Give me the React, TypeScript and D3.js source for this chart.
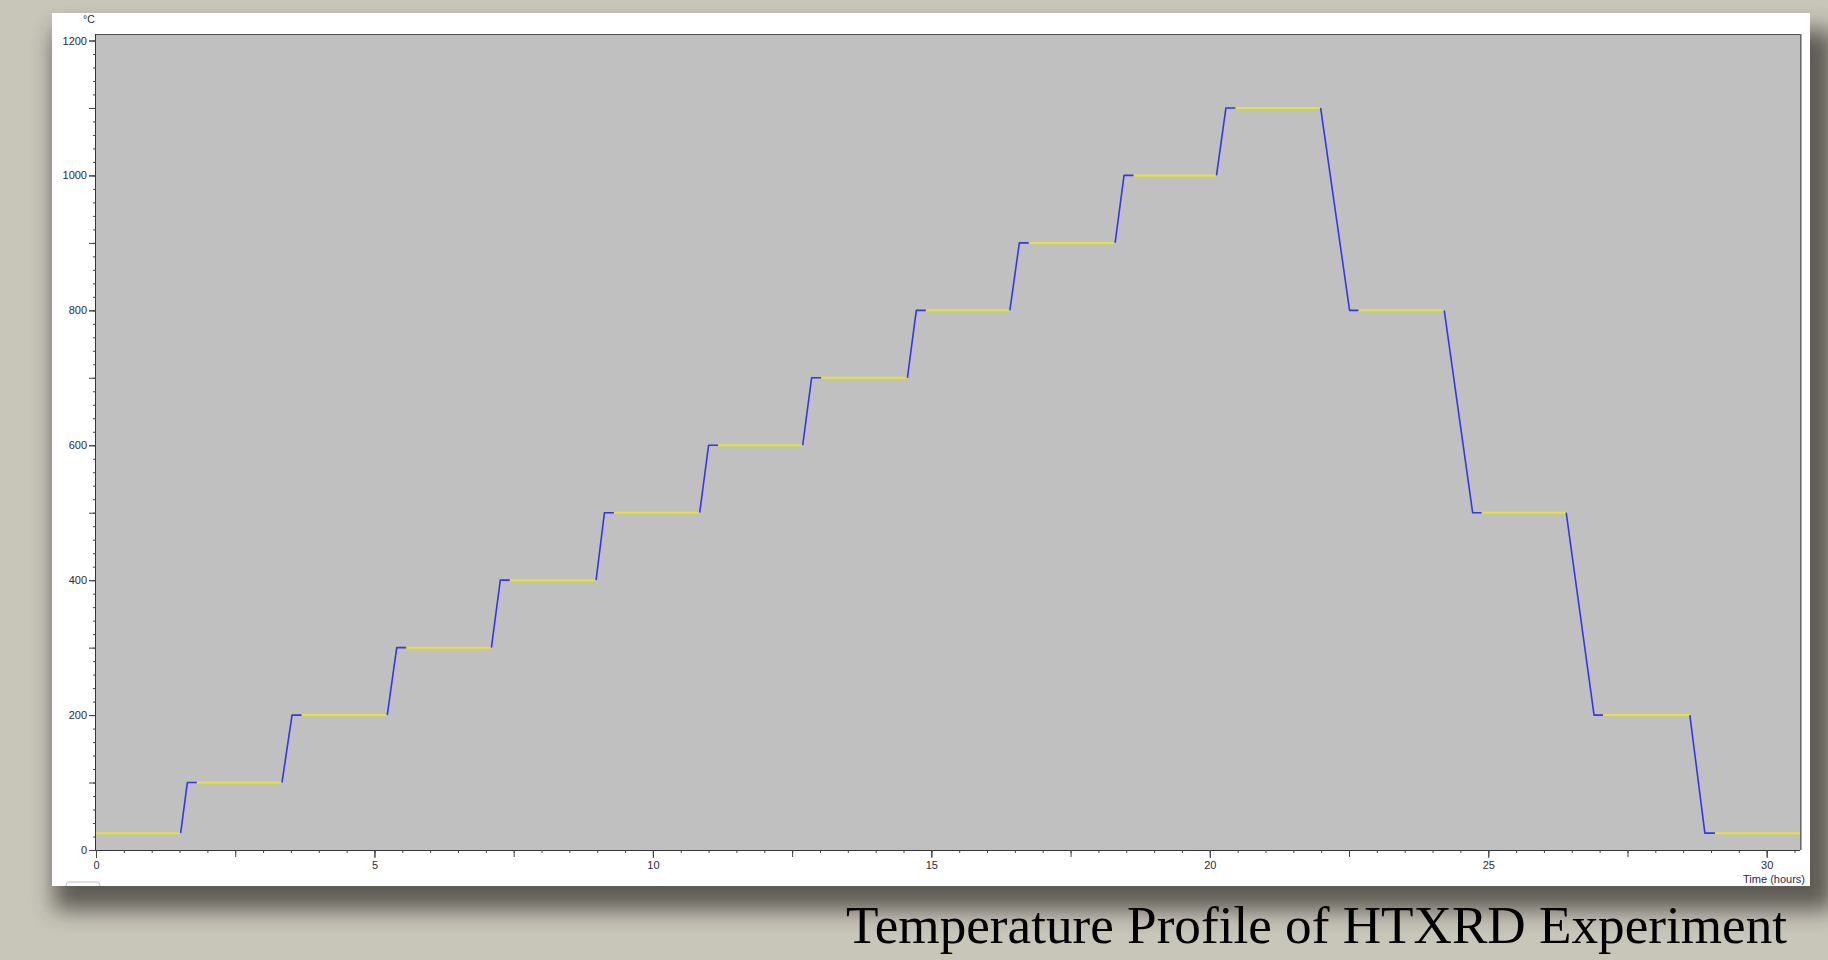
import React, { useEffect, useRef } from "react";
import * as d3 from "d3";

// Temperature levels (°C) of each step of the HTXRD programme
const levels = [25, 100, 200, 300, 400, 500, 600, 700, 800, 900, 1000, 1100, 800, 500, 200, 25];
// time (hours) at which each level is reached
const reachTimes = [0, 1.64, 3.52, 5.40, 7.26, 9.13, 11.00, 12.85, 14.73, 16.58, 18.46, 20.29, 22.51, 24.72, 26.90, 28.89];
// time (hours) at which the measured hold (yellow) starts
const holdStartTimes = [0, 1.81, 3.69, 5.57, 7.43, 9.30, 11.17, 13.02, 14.90, 16.75, 18.63, 20.46, 22.67, 24.88, 27.06, 29.07];
// time (hours) at which each hold ends
const holdEndTimes = [1.52, 3.34, 5.23, 7.10, 8.98, 10.84, 12.69, 14.57, 16.41, 18.30, 20.12, 21.99, 24.21, 26.40, 28.62, 30.59];

const xLabelTicks = [0, 5, 10, 15, 20, 25, 30];
const yLabelTicks = [0, 200, 400, 600, 800, 1000, 1200];

const W = 1828;
const H = 960;
const plot = { left: 96, right: 1800, top: 34, bottom: 850 };

export default function App() {
  const xAxisRef = useRef<SVGGElement>(null);
  const yAxisRef = useRef<SVGGElement>(null);

  const x = d3.scaleLinear().domain([0, 30]).range([96, 1766.7]);
  const y = d3.scaleLinear().domain([0, 1200]).range([850, 40.5]);

  useEffect(() => {
    document.body.style.margin = "0";
    const font = "Liberation Sans, Arial, sans-serif";
    const gx = d3.select(xAxisRef.current);
    gx.selectAll("*").remove();
    const minorX = d3.range(0, 30.6, 0.5);
    const majorX = d3.range(0, 30.6, 2.5);
    gx.append("g").call(d3.axisBottom(x).tickValues(minorX).tickSize(3).tickFormat(() => ""));
    gx.append("g").call(d3.axisBottom(x).tickValues(majorX).tickSize(7).tickFormat(() => ""));
    gx.append("g").call(d3.axisBottom(x).tickValues(xLabelTicks).tickSize(8).tickPadding(3).tickFormat(d3.format("d")));
    gx.selectAll(".domain").remove();
    gx.selectAll("line").attr("stroke", "#444");
    gx.selectAll("text").attr("fill", "#2a2a3a").style("font-family", font).style("font-size", "11px");

    const gy = d3.select(yAxisRef.current);
    gy.selectAll("*").remove();
    const minorY = d3.range(0, 1201, 20);
    const majorY = d3.range(0, 1201, 100);
    gy.append("g").call(d3.axisLeft(y).tickValues(minorY).tickSize(3).tickFormat(() => ""));
    gy.append("g").call(d3.axisLeft(y).tickValues(majorY).tickSize(7).tickFormat(() => ""));
    gy.append("g").call(d3.axisLeft(y).tickValues(yLabelTicks).tickSize(7).tickPadding(2).tickFormat(d3.format("d")));
    gy.selectAll(".domain").remove();
    gy.selectAll("line").attr("stroke", "#444");
    gy.selectAll("text").attr("fill", "#2a2a3a").style("font-family", font).style("font-size", "11px");
  }, []);

  const line = d3
    .line<[number, number]>()
    .x((d) => x(d[0]))
    .y((d) => y(d[1]));

  const bluePaths: string[] = [];
  const yellowPaths: string[] = [];
  levels.forEach((lv, i) => {
    if (i > 0) {
      const pts: [number, number][] = [
        [holdEndTimes[i - 1], levels[i - 1]],
        [reachTimes[i], lv],
        [holdStartTimes[i], lv],
      ];
      bluePaths.push(line(pts) as string);
    }
    yellowPaths.push(
      line([
        [holdStartTimes[i], lv],
        [holdEndTimes[i], lv],
      ]) as string
    );
  });

  return (
    <svg
      width={W}
      height={H}
      style={{ position: "absolute", left: 0, top: 0, display: "block" }}
    >
      <defs>
        <filter id="shadow" x="-5%" y="-10%" width="110%" height="130%">
          <feGaussianBlur stdDeviation="11" />
        </filter>
        <clipPath id="panelClip">
          <rect x={52} y={13} width={1758} height={873} />
        </clipPath>
        <clipPath id="plotClip">
          <rect x={plot.left} y={plot.top} width={plot.right - plot.left} height={plot.bottom - plot.top} />
        </clipPath>
      </defs>
      <rect x={0} y={0} width={W} height={H} fill="#c8c5b9" />
      <rect x={54} y={30} width={1780} height={880} fill="#3a3832" opacity={0.75} filter="url(#shadow)" />
      <rect x={52} y={13} width={1758} height={873} fill="#ffffff" />
      <rect x={66} y={882} width={34} height={10} rx={3} fill="none" stroke="#bdbdbd" clipPath="url(#panelClip)" />

      {/* plot background */}
      <rect x={plot.left} y={plot.top} width={plot.right - plot.left} height={plot.bottom - plot.top} fill="#c0c0c0" />
      <line x1={plot.left} x2={plot.right} y1={plot.top + 0.5} y2={plot.top + 0.5} stroke="#505050" />
      <line x1={plot.right + 0.5} x2={plot.right + 0.5} y1={plot.top} y2={plot.bottom} stroke="#6a6a6a" />
      <line x1={plot.right + 1.5} x2={plot.right + 1.5} y1={plot.top} y2={plot.bottom} stroke="#a8a8a8" />

      <g clipPath="url(#plotClip)">
        {yellowPaths.map((d, i) => (
          <path key={"y" + i} d={d} fill="none" stroke="#e6e625" strokeWidth={2} />
        ))}
        {bluePaths.map((d, i) => (
          <path key={"b" + i} d={d} fill="none" stroke="#3535ec" strokeWidth={1.6} strokeLinejoin="round" />
        ))}
      </g>

      <line x1={plot.left} x2={plot.right} y1={plot.bottom + 0.5} y2={plot.bottom + 0.5} stroke="#333" />
      <line x1={plot.left - 0.5} x2={plot.left - 0.5} y1={plot.top} y2={plot.bottom} stroke="#333" />

      <g ref={xAxisRef} transform={`translate(0,${plot.bottom})`} />
      <g ref={yAxisRef} transform={`translate(${plot.left},0)`} />

      <text x={89} y={23} textAnchor="middle" fontFamily="Liberation Sans, Arial, sans-serif" fontSize={10.5} fill="#2a2a3a">
        °C
      </text>
      <text x={1805} y={883} textAnchor="end" fontFamily="Liberation Sans, Arial, sans-serif" fontSize={11} fill="#2a2a4a">
        Time (hours)
      </text>

      <text
        x={846}
        y={943}
        fontFamily="Liberation Serif, Times New Roman, serif"
        fontSize={53}
        fill="#000"
        textLength={941}
        lengthAdjust="spacingAndGlyphs"
      >
        Temperature Profile of HTXRD Experiment
      </text>
    </svg>
  );
}
